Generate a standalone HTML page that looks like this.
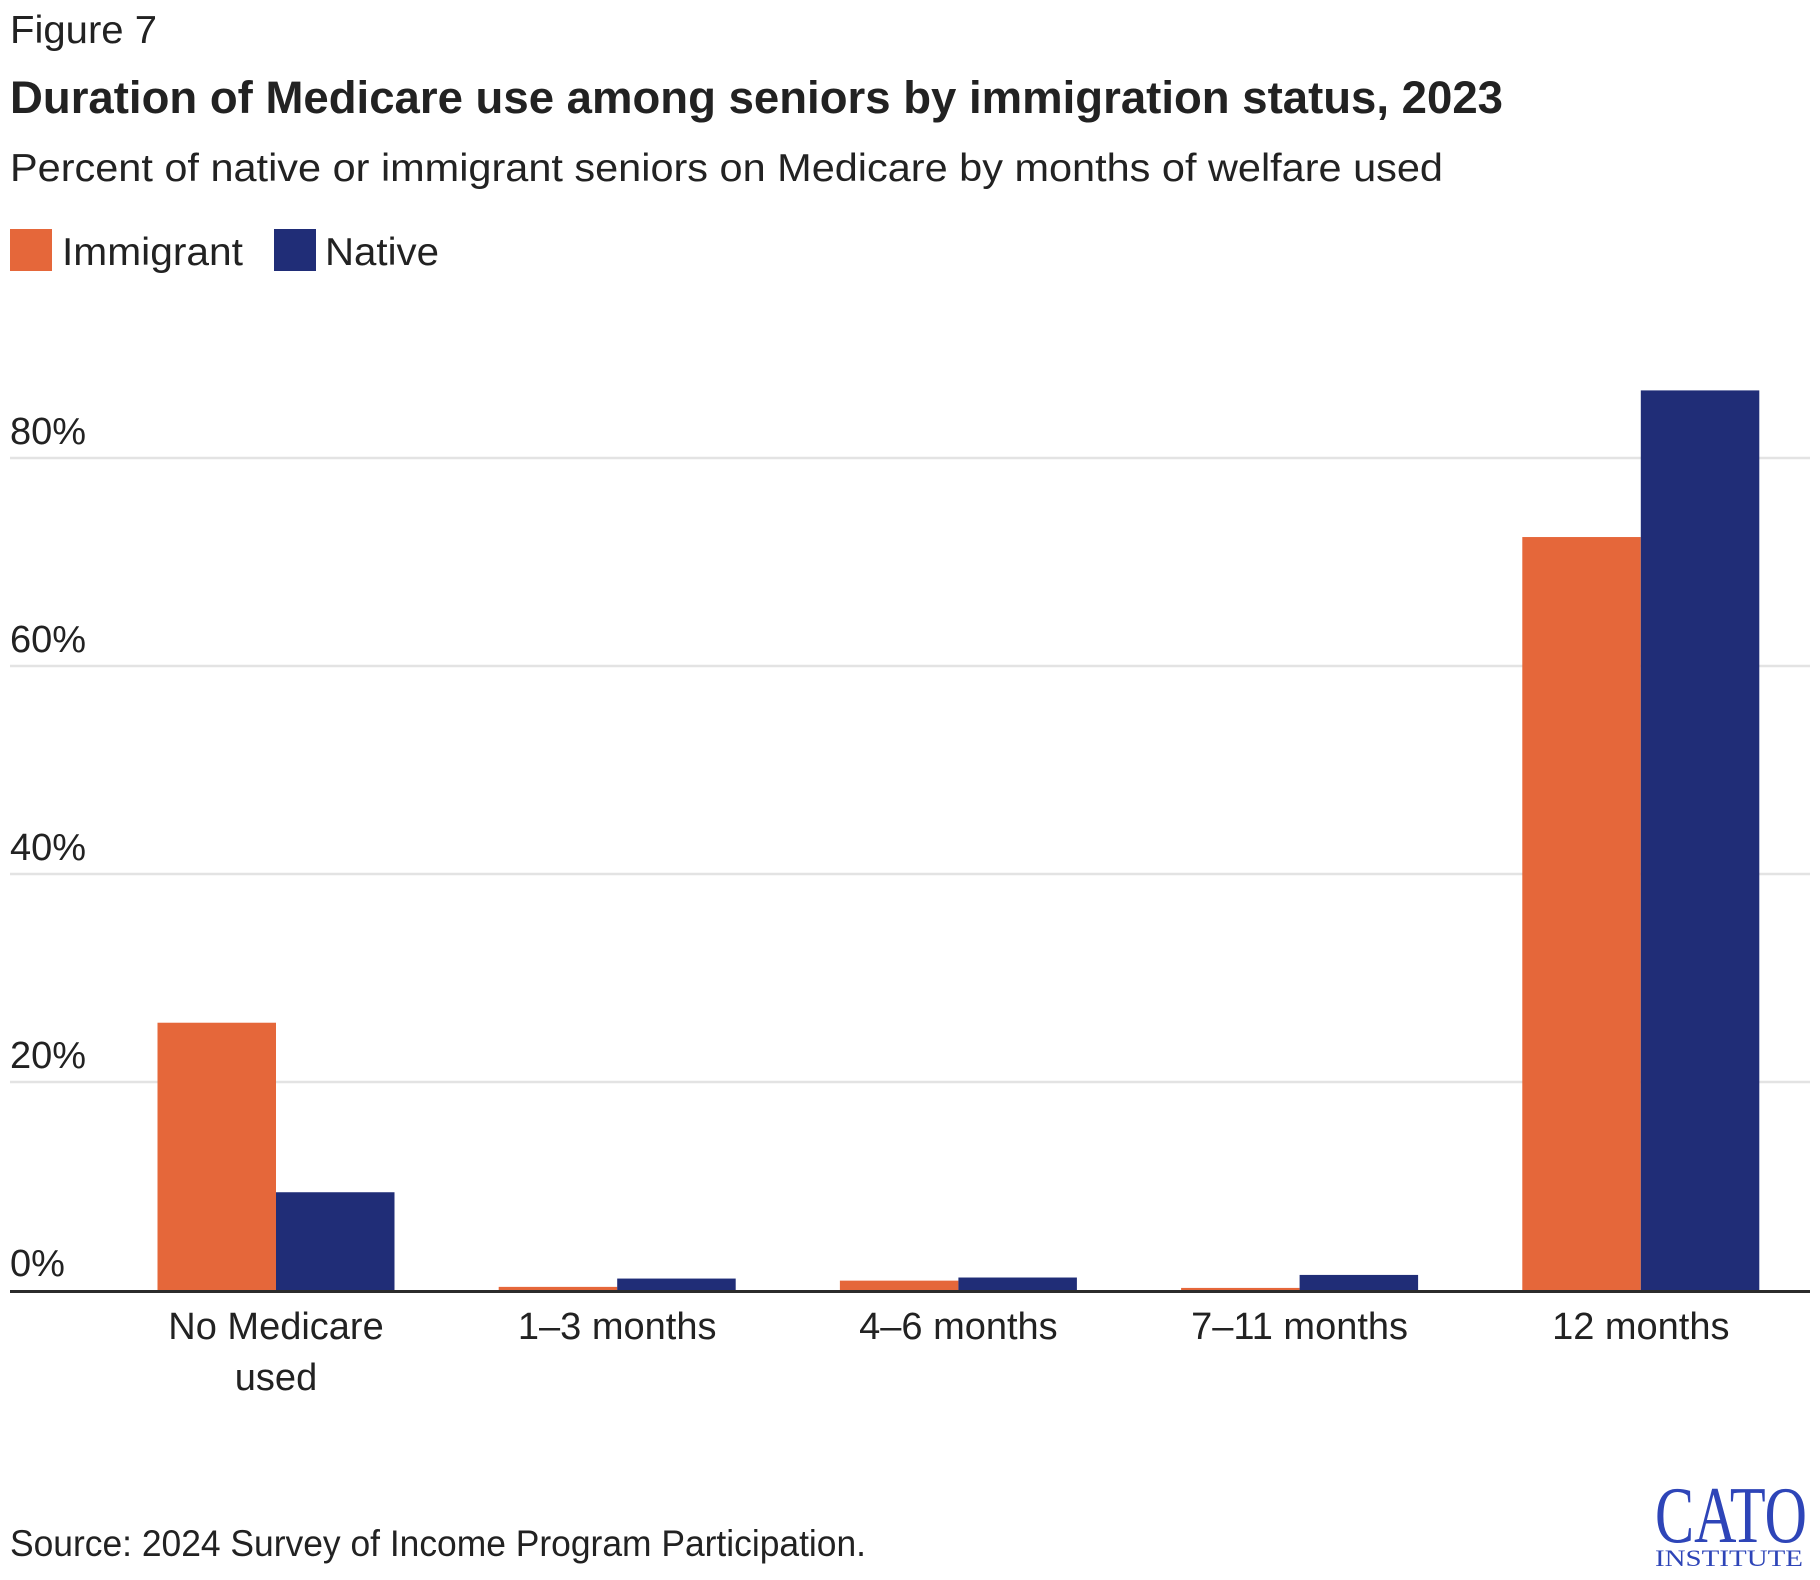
<!DOCTYPE html>
<html><head><meta charset="utf-8"><style>
html,body{margin:0;padding:0;background:#fff;}
svg{display:block;}
text{font-family:"Liberation Sans",sans-serif;fill:#222;}
</style></head><body>
<svg id="chart" width="1820" height="1580" viewBox="0 0 1820 1580" xmlns="http://www.w3.org/2000/svg">
<text x="10" y="43" font-size="39" textLength="147" lengthAdjust="spacingAndGlyphs">Figure 7</text>
<text x="10" y="113" font-size="45" font-weight="bold" textLength="1493" lengthAdjust="spacingAndGlyphs">Duration of Medicare use among seniors by immigration status, 2023</text>
<text x="10" y="181" font-size="39" textLength="1433" lengthAdjust="spacingAndGlyphs">Percent of native or immigrant seniors on Medicare by months of welfare used</text>
<g>
<rect x="10" y="229" width="42" height="42" fill="#E5673A"/>
<text x="62" y="265" font-size="39" textLength="181" lengthAdjust="spacingAndGlyphs">Immigrant</text>
<rect x="274" y="229" width="42" height="42" fill="#202D77"/>
<text x="325" y="265" font-size="39" textLength="114" lengthAdjust="spacingAndGlyphs">Native</text>
</g>
<g id="grid"></g>
<g id="bars"></g>
<line x1="10" x2="1810" y1="1291.5" y2="1291.5" stroke="#2b2b2b" stroke-width="3"/>
<g id="xlabels"></g>
<text x="10" y="1556" font-size="37" textLength="856" lengthAdjust="spacingAndGlyphs">Source: 2024 Survey of Income Program Participation.</text>
<g>
<text x="1731" y="1542" font-size="80" text-anchor="middle" style="fill:#2E45B8;font-family:'Liberation Serif',serif" textLength="152" lengthAdjust="spacingAndGlyphs">CATO</text>
<text x="1729" y="1566" font-size="23" text-anchor="middle" style="fill:#2E45B8;font-family:'Liberation Serif',serif" textLength="148" lengthAdjust="spacingAndGlyphs">INSTITUTE</text>
</g>
</svg>
<script>
const categories = ["No Medicare|used", "1–3 months", "4–6 months", "7–11 months", "12 months"];
const immigrantValues = [25.7, 0.3, 0.9, 0.2, 72.4];
const nativeValues = [9.4, 1.1, 1.2, 1.45, 86.5];
const yTicks = [0, 20, 40, 60, 80];
const yTickLabels = ["0%", "20%", "40%", "60%", "80%"];

const NS = "http://www.w3.org/2000/svg";
const y0 = 1290, pxPerUnit = 208/20;
function yScale(v){ return y0 - v*pxPerUnit; }
const firstCenter = 276, step = 341.2, barW = 118.5;
function xCenter(i){ return firstCenter + i*step; }

const grid = document.getElementById('grid');
yTicks.forEach((t,i)=>{
  if(t!==0){
    const l=document.createElementNS(NS,'line');
    
    
    l.setAttribute('x1',10);l.setAttribute('x2',1810);
    l.setAttribute('y1',yScale(t));l.setAttribute('y2',yScale(t));
    l.setAttribute('stroke','#e3e3e3');l.setAttribute('stroke-width','2.5');
    grid.appendChild(l);
  }
  const tx=document.createElementNS(NS,'text');
  
  
  tx.setAttribute('x',10);tx.setAttribute('y',yScale(t)-14);
  tx.setAttribute('font-size','38');
  tx.textContent=yTickLabels[i];
  grid.appendChild(tx);
});

const bars=document.getElementById('bars');
categories.forEach((c,i)=>{
  const cx=xCenter(i);
  const r1=document.createElementNS(NS,'rect');
  
  
  r1.setAttribute('x',cx-barW);r1.setAttribute('width',barW);
  r1.setAttribute('y',yScale(immigrantValues[i]));r1.setAttribute('height',y0-yScale(immigrantValues[i]));
  r1.setAttribute('fill','#E5673A');
  bars.appendChild(r1);
  const r2=document.createElementNS(NS,'rect');
  
  
  r2.setAttribute('x',cx);r2.setAttribute('width',barW);
  r2.setAttribute('y',yScale(nativeValues[i]));r2.setAttribute('height',y0-yScale(nativeValues[i]));
  r2.setAttribute('fill','#202D77');
  bars.appendChild(r2);
});

const xl=document.getElementById('xlabels');
categories.forEach((c,i)=>{
  c.split('|').forEach((line,j)=>{
    const t=document.createElementNS(NS,'text');
    
    
    t.setAttribute('x',xCenter(i));t.setAttribute('y',1339+j*51);
    t.setAttribute('font-size','38');t.setAttribute('text-anchor','middle');
    t.textContent=line;
    xl.appendChild(t);
  });
});
</script>
</body></html>
